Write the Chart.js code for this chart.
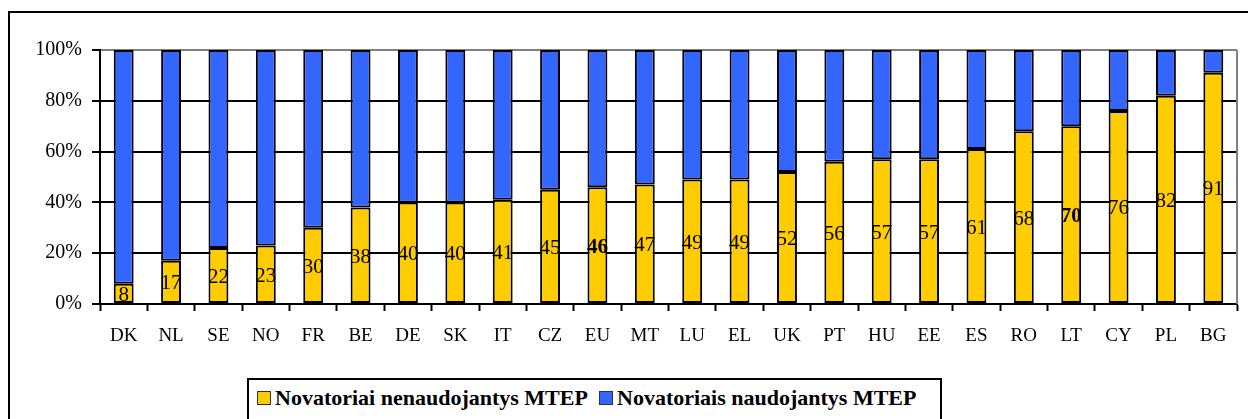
<!DOCTYPE html>
<html lang="lt">
<head>
<meta charset="utf-8">
<script src="https://cdn.jsdelivr.net/npm/chart.js@4/dist/chart.umd.min.js"></script>
<style>
  html, body { margin: 0; padding: 0; background: #fff; }
  body { width: 1248px; height: 419px; overflow: hidden; position: relative; }
  #frame {
    position: absolute; left: 8px; top: 11px; width: 1300px; height: 500px;
    border: 2px solid #000; box-sizing: border-box;
  }
  #wrap { position: absolute; left: 0; top: 0; width: 1248px; height: 419px; }
  #legend {
    position: absolute; left: 247px; top: 378px; width: 695px; height: 80px;
    border: 2px solid #000; box-sizing: border-box; background: #fff;
    font-family: "Liberation Serif", "Times New Roman", serif; font-weight: bold;
    font-size: 22px; color: #000; white-space: nowrap;
  }
  #legend .item { position: absolute; top: 5px; display: flex; align-items: center; }
  #legend .sw { width: 12px; height: 12px; border: 1px solid #333; margin-right: 4px; }
</style>
</head>
<body>
<div id="frame"></div>
<div id="wrap"><canvas id="chart" width="1248" height="419"></canvas></div>
<div id="legend"></div>
<script>
// Countries, ordered by the share of innovators that do not use R&D
const countries = ['DK','NL','SE','NO','FR','BE','DE','SK','IT','CZ','EU','MT','LU','EL','UK','PT','HU','EE','ES','RO','LT','CY','PL','BG'];
// Innovators not using R&D (MTEP), %
const withoutRD = [8, 17, 22, 23, 30, 38, 40, 40, 41, 45, 46, 47, 49, 49, 52, 56, 57, 57, 61, 68, 70, 76, 82, 91];
// Innovators using R&D (MTEP), %
const withRD = [92, 83, 78, 77, 70, 62, 60, 60, 59, 55, 54, 53, 51, 51, 48, 44, 43, 43, 39, 32, 30, 24, 18, 9];
// Value axis ticks
const yTicks = [0, 20, 40, 60, 80, 100];
// Categories whose value label is emphasised
const boldLabels = ['EU', 'LT'];

const seriesNames = ['Novatoriai nenaudojantys MTEP', 'Novatoriais naudojantys MTEP'];
const seriesColors = ['#FFCC00', '#3366FF'];

const SERIF = '"Liberation Serif", "Times New Roman", serif';

// Value labels centred inside the yellow segments
const valueLabels = {
  id: 'valueLabels',
  afterDatasetsDraw(chart) {
    const ctx = chart.ctx;
    const meta = chart.getDatasetMeta(0);
    ctx.save();
    ctx.textAlign = 'center';
    ctx.textBaseline = 'middle';
    ctx.fillStyle = '#000';
    meta.data.forEach((bar, i) => {
      const bold = boldLabels.includes(countries[i]);
      ctx.font = (bold ? 'bold ' : '') + '21px ' + SERIF;
      const yMid = (bar.y + bar.base) / 2;
      ctx.fillText(String(withoutRD[i]), bar.x, yMid + 2);
    });
    ctx.restore();
  }
};

// Grey right edge of the plot area
const plotFrame = {
  id: 'plotFrame',
  beforeDatasetsDraw(chart) {
    const { ctx, chartArea: a } = chart;
    ctx.save();
    ctx.strokeStyle = '#808080';
    ctx.lineWidth = 2;
    ctx.beginPath();
    ctx.moveTo(a.right, a.top);
    ctx.lineTo(a.right, a.bottom);
    ctx.stroke();
    ctx.restore();
  }
};

new Chart(document.getElementById('chart'), {
  type: 'bar',
  data: {
    labels: countries,
    datasets: [
      { label: seriesNames[0], data: withoutRD, backgroundColor: seriesColors[0] },
      { label: seriesNames[1], data: withRD, backgroundColor: seriesColors[1] }
    ]
  },
  options: {
    responsive: false,
    animation: false,
    events: [],
    layout: { padding: { left: 0, top: 50, right: 11, bottom: 0 } },
    datasets: {
      bar: {
        borderColor: '#000',
        borderWidth: 2,
        borderSkipped: false,
        categoryPercentage: 1,
        barPercentage: 0.42
      }
    },
    plugins: {
      legend: { display: false },
      tooltip: { enabled: false }
    },
    scales: {
      x: {
        stacked: true,
        afterFit(scale) { scale.height = 115; },
        grid: {
          drawOnChartArea: false,
          drawTicks: true,
          tickLength: 7,
          tickColor: '#000',
          tickWidth: 2,
          color: '#000'
        },
        border: { color: '#000', width: 2 },
        ticks: {
          color: '#000',
          padding: 14,
          maxRotation: 0,
          autoSkip: false,
          font: { family: SERIF, size: 19 }
        }
      },
      y: {
        stacked: true,
        min: 0,
        max: 100,
        afterFit(scale) { scale.width = 100; },
        afterBuildTicks(scale) { scale.ticks = yTicks.map(v => ({ value: v })); },
        grid: {
          color: c => (c.tick && c.tick.value === 100 ? '#808080' : '#000'),
          lineWidth: 2,
          tickLength: 8,
          tickColor: '#000',
          tickWidth: 2
        },
        border: { color: '#000', width: 2 },
        ticks: {
          color: '#000',
          padding: 10,
          font: { family: SERIF, size: 20 },
          callback: v => v + '%'
        }
      }
    }
  },
  plugins: [plotFrame, valueLabels]
});

// Legend
const legend = document.getElementById('legend');
const legendLefts = [8, 350];
seriesNames.forEach((name, i) => {
  const item = document.createElement('div');
  item.className = 'item';
  item.style.left = legendLefts[i] + 'px';
  const sw = document.createElement('span');
  sw.className = 'sw';
  sw.style.background = seriesColors[i];
  const txt = document.createElement('span');
  txt.textContent = name;
  item.appendChild(sw);
  item.appendChild(txt);
  legend.appendChild(item);
});
</script>
</body>
</html>
